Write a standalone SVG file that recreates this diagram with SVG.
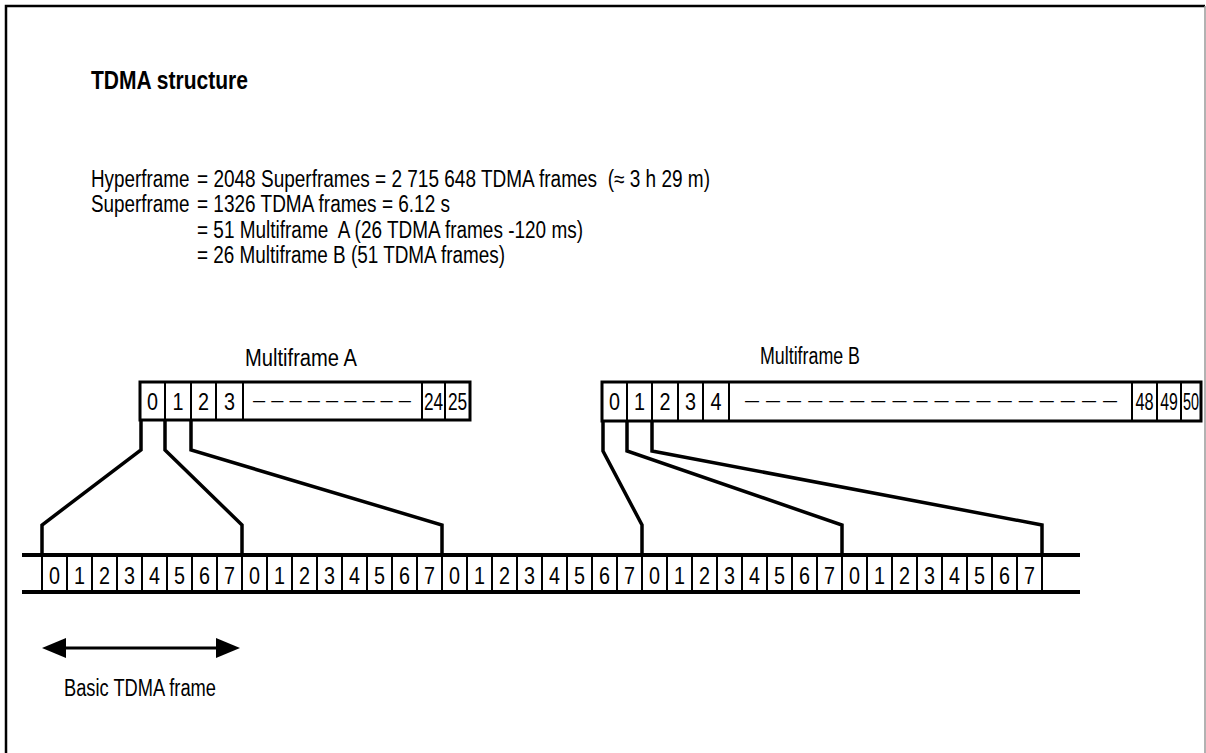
<svg xmlns="http://www.w3.org/2000/svg" width="1206" height="753" viewBox="0 0 1206 753">
<style>
text{font-family:"Liberation Sans",Arial,sans-serif;fill:#000;white-space:pre}
.t{font-size:23px}
.d{font-size:24px;text-anchor:middle}
.dash{font-size:20px}
.title{font-size:26px;font-weight:bold}
.box{fill:#fff;stroke:#000;stroke-width:3}
.div{stroke:#000;stroke-width:2}
.rail{stroke:#000;stroke-width:4}
.con{fill:none;stroke:#000;stroke-width:3.5;stroke-linejoin:miter}
</style>
<rect width="1206" height="753" fill="#fff"/>
<g id="frame">
<path d="M6,760 V6 H1205" fill="none" stroke="#000" stroke-width="2.5"/>
<line x1="1205" y1="6" x2="1205" y2="760" stroke="#999" stroke-width="1.5"/>
</g>
<g id="title"><text class="title" x="91" y="89" textLength="157" lengthAdjust="spacingAndGlyphs">TDMA structure</text></g>
<g id="definitions">
<text class="t" transform="translate(91,187) scale(0.82,1)">Hyperframe</text>
<text class="t" x="197" y="187" textLength="513" lengthAdjust="spacingAndGlyphs">= 2048 Superframes = 2 715 648 TDMA frames  (≈ 3 h 29 m)</text>
<text class="t" transform="translate(91,212) scale(0.82,1)">Superframe</text>
<text class="t" x="197" y="212" textLength="253" lengthAdjust="spacingAndGlyphs">= 1326 TDMA frames = 6.12 s</text>
<text class="t" x="197" y="238" textLength="386" lengthAdjust="spacingAndGlyphs">= 51 Multiframe  A (26 TDMA frames -120 ms)</text>
<text class="t" x="197" y="263" textLength="308" lengthAdjust="spacingAndGlyphs">= 26 Multiframe B (51 TDMA frames)</text>
</g>
<g id="multiframe-a">
<text class="t" x="245" y="366" textLength="112" lengthAdjust="spacingAndGlyphs">Multiframe A</text>
<rect class="box" x="140" y="382" width="330" height="38"/>
<path class="div" d="M165,382V420 M191,382V420 M216,382V420 M243,382V420 M422,382V420 M445,382V420"/>
<text class="d" x="152.5" y="410" textLength="11" lengthAdjust="spacingAndGlyphs">0</text>
<text class="d" x="178" y="410" textLength="11" lengthAdjust="spacingAndGlyphs">1</text>
<text class="d" x="203.5" y="410" textLength="11" lengthAdjust="spacingAndGlyphs">2</text>
<text class="d" x="229.5" y="410" textLength="11" lengthAdjust="spacingAndGlyphs">3</text>
<text class="dash" x="253" y="407" textLength="158" lengthAdjust="spacingAndGlyphs">– – – – – – – – –</text>
<text class="d" transform="translate(433.5,410) scale(0.72,1)">24</text>
<text class="d" transform="translate(457.5,410) scale(0.72,1)">25</text>
</g>
<g id="multiframe-b">
<text class="t" x="760" y="364" textLength="100" lengthAdjust="spacingAndGlyphs">Multiframe B</text>
<rect class="box" x="602" y="382" width="599" height="39"/>
<path class="div" d="M627,382V421 M652,382V421 M678,382V421 M703,382V421 M729,382V421 M1132,382V421 M1157,382V421 M1181,382V421"/>
<text class="d" x="614.5" y="410" textLength="11" lengthAdjust="spacingAndGlyphs">0</text>
<text class="d" x="639.5" y="410" textLength="11" lengthAdjust="spacingAndGlyphs">1</text>
<text class="d" x="665" y="410" textLength="11" lengthAdjust="spacingAndGlyphs">2</text>
<text class="d" x="690.5" y="410" textLength="11" lengthAdjust="spacingAndGlyphs">3</text>
<text class="d" x="716" y="410" textLength="11" lengthAdjust="spacingAndGlyphs">4</text>
<text class="dash" x="745" y="407" textLength="372" lengthAdjust="spacingAndGlyphs">– – – – – – – – – – – – – – – – – –</text>
<text class="d" transform="translate(1144.5,410) scale(0.68,1)">48</text>
<text class="d" transform="translate(1169,410) scale(0.66,1)">49</text>
<text class="d" transform="translate(1191,410) scale(0.6,1)">50</text>
</g>
<g id="connectors">
<path class="con" d="M141,420V450L42,525V555"/>
<path class="con" d="M165,420V450L242,525V555"/>
<path class="con" d="M191,420V450L442,525V555"/>
<path class="con" d="M603,421V451L642,525V555"/>
<path class="con" d="M627,421V451L842,525V555"/>
<path class="con" d="M652,421V451L1042,525V555"/>
</g>
<g id="timeline">
<line class="rail" x1="22" y1="555" x2="1080" y2="555"/>
<line class="rail" x1="22" y1="592" x2="1080" y2="592"/>
<path class="div" d="M42,555V592 M67,555V592 M92,555V592 M117,555V592 M142,555V592 M167,555V592 M192,555V592 M217,555V592 M242,555V592 M267,555V592 M292,555V592 M317,555V592 M342,555V592 M367,555V592 M392,555V592 M417,555V592 M442,555V592 M467,555V592 M492,555V592 M517,555V592 M542,555V592 M567,555V592 M592,555V592 M617,555V592 M642,555V592 M667,555V592 M692,555V592 M717,555V592 M742,555V592 M767,555V592 M792,555V592 M817,555V592 M842,555V592 M867,555V592 M892,555V592 M917,555V592 M942,555V592 M967,555V592 M992,555V592 M1017,555V592 M1042,555V592"/>
<g class="digits">
<text class="d" x="54.5" y="584" textLength="11" lengthAdjust="spacingAndGlyphs">0</text><text class="d" x="79.5" y="584" textLength="11" lengthAdjust="spacingAndGlyphs">1</text><text class="d" x="104.5" y="584" textLength="11" lengthAdjust="spacingAndGlyphs">2</text><text class="d" x="129.5" y="584" textLength="11" lengthAdjust="spacingAndGlyphs">3</text><text class="d" x="154.5" y="584" textLength="11" lengthAdjust="spacingAndGlyphs">4</text><text class="d" x="179.5" y="584" textLength="11" lengthAdjust="spacingAndGlyphs">5</text><text class="d" x="204.5" y="584" textLength="11" lengthAdjust="spacingAndGlyphs">6</text><text class="d" x="229.5" y="584" textLength="11" lengthAdjust="spacingAndGlyphs">7</text>
<text class="d" x="254.5" y="584" textLength="11" lengthAdjust="spacingAndGlyphs">0</text><text class="d" x="279.5" y="584" textLength="11" lengthAdjust="spacingAndGlyphs">1</text><text class="d" x="304.5" y="584" textLength="11" lengthAdjust="spacingAndGlyphs">2</text><text class="d" x="329.5" y="584" textLength="11" lengthAdjust="spacingAndGlyphs">3</text><text class="d" x="354.5" y="584" textLength="11" lengthAdjust="spacingAndGlyphs">4</text><text class="d" x="379.5" y="584" textLength="11" lengthAdjust="spacingAndGlyphs">5</text><text class="d" x="404.5" y="584" textLength="11" lengthAdjust="spacingAndGlyphs">6</text><text class="d" x="429.5" y="584" textLength="11" lengthAdjust="spacingAndGlyphs">7</text>
<text class="d" x="454.5" y="584" textLength="11" lengthAdjust="spacingAndGlyphs">0</text><text class="d" x="479.5" y="584" textLength="11" lengthAdjust="spacingAndGlyphs">1</text><text class="d" x="504.5" y="584" textLength="11" lengthAdjust="spacingAndGlyphs">2</text><text class="d" x="529.5" y="584" textLength="11" lengthAdjust="spacingAndGlyphs">3</text><text class="d" x="554.5" y="584" textLength="11" lengthAdjust="spacingAndGlyphs">4</text><text class="d" x="579.5" y="584" textLength="11" lengthAdjust="spacingAndGlyphs">5</text><text class="d" x="604.5" y="584" textLength="11" lengthAdjust="spacingAndGlyphs">6</text><text class="d" x="629.5" y="584" textLength="11" lengthAdjust="spacingAndGlyphs">7</text>
<text class="d" x="654.5" y="584" textLength="11" lengthAdjust="spacingAndGlyphs">0</text><text class="d" x="679.5" y="584" textLength="11" lengthAdjust="spacingAndGlyphs">1</text><text class="d" x="704.5" y="584" textLength="11" lengthAdjust="spacingAndGlyphs">2</text><text class="d" x="729.5" y="584" textLength="11" lengthAdjust="spacingAndGlyphs">3</text><text class="d" x="754.5" y="584" textLength="11" lengthAdjust="spacingAndGlyphs">4</text><text class="d" x="779.5" y="584" textLength="11" lengthAdjust="spacingAndGlyphs">5</text><text class="d" x="804.5" y="584" textLength="11" lengthAdjust="spacingAndGlyphs">6</text><text class="d" x="829.5" y="584" textLength="11" lengthAdjust="spacingAndGlyphs">7</text>
<text class="d" x="854.5" y="584" textLength="11" lengthAdjust="spacingAndGlyphs">0</text><text class="d" x="879.5" y="584" textLength="11" lengthAdjust="spacingAndGlyphs">1</text><text class="d" x="904.5" y="584" textLength="11" lengthAdjust="spacingAndGlyphs">2</text><text class="d" x="929.5" y="584" textLength="11" lengthAdjust="spacingAndGlyphs">3</text><text class="d" x="954.5" y="584" textLength="11" lengthAdjust="spacingAndGlyphs">4</text><text class="d" x="979.5" y="584" textLength="11" lengthAdjust="spacingAndGlyphs">5</text><text class="d" x="1004.5" y="584" textLength="11" lengthAdjust="spacingAndGlyphs">6</text><text class="d" x="1029.5" y="584" textLength="11" lengthAdjust="spacingAndGlyphs">7</text>
</g>
</g>
<g id="basic-frame">
<line x1="60" y1="648" x2="222" y2="648" stroke="#000" stroke-width="3"/>
<polygon points="42,648 66,638 66,658"/>
<polygon points="240,648 216,638 216,658"/>
<text class="t" x="64" y="696" textLength="152" lengthAdjust="spacingAndGlyphs">Basic TDMA frame</text>
</g>
</svg>
